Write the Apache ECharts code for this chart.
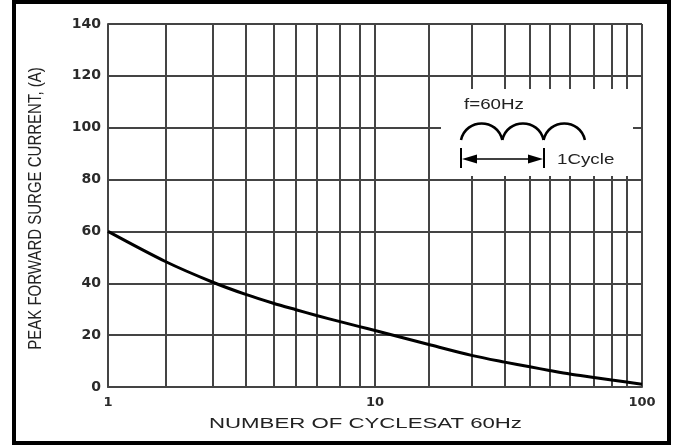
<!DOCTYPE html>
<html>
<head>
<meta charset="utf-8">
<script src="https://cdn.jsdelivr.net/npm/echarts@6/dist/echarts.min.js"></script>
<style>
  html, body { margin: 0; padding: 0; background: #fff; }
  #chart { width: 675px; height: 446px; }
</style>
</head>
<body>
<div id="chart"></div>
<script>
// Peak forward surge current vs number of cycles at 60 Hz (log x axis).
// Curve points at each vertical grid line.
const cycles = [1, 1.64, 2.47, 3.28, 4.16, 5.06, 6.04, 7.4, 8.75, 10, 15.9, 23, 30.6, 38, 45, 53.7, 66, 77, 87.5, 100];
const current = [60, 48.4, 40.4, 35.7, 32.3, 29.8, 27.6, 25.2, 23.3, 21.8, 16.4, 12.2, 9.6, 7.8, 6.4, 5.0, 3.7, 2.7, 1.9, 1.1];
// minor vertical grid lines, where the picture has them
const gridX = [1.64, 2.47, 3.28, 4.16, 5.06, 6.04, 7.4, 8.75, 15.9, 23, 30.6, 38, 45, 53.7, 66, 77, 87.5];
const xTicks = [1, 10, 100];
const yMax = 140, yStep = 20;

const GRID = '#444';
const LABEL = '#2a2a2a';
const INK = '#222';

const chart = echarts.init(document.getElementById('chart'), null, { renderer: 'canvas' });

// inset "f=60Hz / 1Cycle" sketch: three rectified half-waves and an arrow over one cycle
const humpX0 = 461, humpW = 41.3, humpBase = 140, humpTop = 123;
const humps = [0, 1, 2].map((i) => {
  const a = humpX0 + i * humpW, b = a + humpW;
  return {
    type: 'bezierCurve', z: 51,
    shape: { x1: a, y1: humpBase, cpx1: a + humpW * 0.12, cpy1: humpTop - 5, cpx2: b - humpW * 0.12, cpy2: humpTop - 5, x2: b, y2: humpBase },
    style: { fill: null, stroke: '#000', lineWidth: 2.5 }
  };
});

const option = {
  animation: false,
  backgroundColor: '#fff',
  grid: { left: 108, right: 33, top: 24, bottom: 59 },
  xAxis: {
    type: 'log', logBase: 10, min: xTicks[0], max: xTicks[xTicks.length - 1], splitNumber: 2,
    axisLine: { show: true, lineStyle: { color: GRID, width: 2 } },
    axisTick: { show: false },
    axisLabel: {
      margin: 9, color: LABEL, fontFamily: 'DejaVu Sans', fontWeight: 'bold', fontSize: 13,
      formatter: (v) => String(Math.round(v))
    },
    splitLine: { show: true, lineStyle: { color: GRID, width: 2 } }
  },
  yAxis: {
    type: 'value', min: 0, max: yMax, interval: yStep,
    axisLine: { show: true, lineStyle: { color: GRID, width: 2 } },
    axisTick: { show: false },
    axisLabel: { margin: 7, color: LABEL, fontFamily: 'DejaVu Sans', fontWeight: 'bold', fontSize: 14 },
    splitLine: { show: true, lineStyle: { color: GRID, width: 2 } }
  },
  series: [
    {
      // carrier for the minor vertical grid lines
      type: 'line', data: [[1, 0]], symbol: 'none', lineStyle: { opacity: 0 }, silent: true, z: 1,
      markLine: {
        silent: true, symbol: 'none', label: { show: false },
        lineStyle: { color: GRID, width: 2, type: 'solid' },
        data: gridX.map((v) => ({ xAxis: v }))
      }
    },
    {
      type: 'line', z: 5,
      data: cycles.map((c, i) => [c, current[i]]),
      smooth: 0.3, symbol: 'none',
      lineStyle: { color: '#000', width: 3 }
    }
  ],
  graphic: [
    // white window in the grid behind the inset
    { type: 'rect', z: 50, shape: { x: 441, y: 89, width: 192, height: 87 }, style: { fill: '#fff' } },
    { type: 'text', z: 51, x: 464, y: 105, scaleX: 1.25,
      style: { text: 'f=60Hz', fill: INK, font: '15px "Liberation Sans"', textAlign: 'left', textVerticalAlign: 'middle' } },
    ...humps,
    { type: 'line', z: 51, shape: { x1: 461, y1: 148, x2: 461, y2: 168 }, style: { stroke: '#000', lineWidth: 2 } },
    { type: 'line', z: 51, shape: { x1: 544, y1: 148, x2: 544, y2: 168 }, style: { stroke: '#000', lineWidth: 2 } },
    { type: 'line', z: 51, shape: { x1: 470, y1: 159, x2: 535, y2: 159 }, style: { stroke: '#000', lineWidth: 1.5 } },
    { type: 'polygon', z: 51, shape: { points: [[462, 159], [477, 154.5], [477, 163.5]] }, style: { fill: '#000' } },
    { type: 'polygon', z: 51, shape: { points: [[543, 159], [528, 154.5], [528, 163.5]] }, style: { fill: '#000' } },
    { type: 'text', z: 51, x: 557, y: 160, scaleX: 1.25,
      style: { text: '1Cycle', fill: INK, font: '15px "Liberation Sans"', textAlign: 'left', textVerticalAlign: 'middle' } },
    // axis titles (the picture's lettering is stretched sideways)
    { type: 'text', z: 51, x: 365.5, y: 424, scaleX: 1.48,
      style: { text: 'NUMBER OF CYCLESAT 60Hz', fill: INK, font: '15px "Liberation Sans"', textAlign: 'center', textVerticalAlign: 'middle' } },
    { type: 'text', z: 51, x: 36.5, y: 208.5, rotation: Math.PI / 2, scaleY: 1.2,
      style: { text: 'PEAK FORWARD SURGE CURRENT, (A)', fill: INK, font: '15px "Liberation Sans"', textAlign: 'center', textVerticalAlign: 'middle' } },
    // heavy outer frame
    { type: 'rect', z: 60, shape: { x: 14, y: 2, width: 655, height: 441 }, style: { fill: null, stroke: '#000', lineWidth: 4 } }
  ]
};

chart.setOption(option);
</script>
</body>
</html>
